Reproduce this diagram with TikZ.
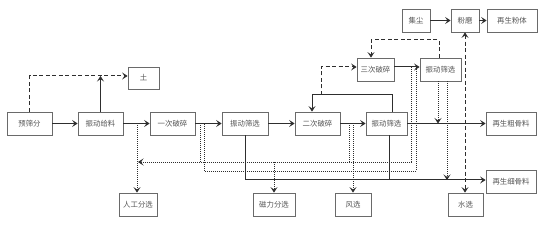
\documentclass[tikz,border=0pt]{standalone}
\usepackage{fontspec}
\newfontfamily\cjk{Noto Sans CJK SC}
\usetikzlibrary{arrows.meta,calc}
\definecolor{ln}{HTML}{2E2E2E}
\definecolor{bx}{HTML}{6A6A6A}
\definecolor{tx}{HTML}{555555}
\tikzset{
  box/.style={draw=bx, line width=0.8pt, minimum height=23pt, inner sep=0pt, font=\cjk\fontsize{7.4}{8}\selectfont, text=tx},
  tip/.style={-{Stealth[length=5.5pt,width=7pt,inset=2.4pt]}},
  sol/.style={draw=ln, line width=1pt},
  dsh/.style={draw=ln, line width=1pt, dash pattern=on 4pt off 2.5pt},
  dot/.style={draw=ln, line width=0.9pt, dash pattern=on 1pt off 1pt},
}
\begin{document}
\begin{tikzpicture}[x=1pt,y=-1pt]
\useasboundingbox[fill=white] (0,0) rectangle (538,229);
% nodes
\node[box, minimum width=45pt] (ys) at (29.5,123.5) {预筛分};
\node[box, minimum width=45pt] (zg) at (100.5,123.5) {振动给料};
\node[box, minimum width=45pt] (yc) at (172.5,123.5) {一次破碎};
\node[box, minimum width=46pt] (zs1) at (245,123.5) {振动筛选};
\node[box, minimum width=45pt] (ec) at (317.5,123.5) {二次破碎};
\node[box, minimum width=41pt] (zs2) at (386.5,123.5) {振动筛选};
\node[box, minimum width=50pt] (ccg) at (511,123.5) {再生粗骨料};
\node[box, minimum width=50pt] (xg) at (511,182) {再生细骨料};
\node[box, minimum width=38pt] (rg) at (138,204.5) {人工分选};
\node[box, minimum width=42pt] (cl) at (274,204.5) {磁力分选};
\node[box, minimum width=36pt] (fx) at (353,204.5) {风选};
\node[box, minimum width=35pt] (sx) at (465.5,204.5) {水选};
\node[box, minimum width=31pt, minimum height=22pt] (tu) at (143.5,78) {土};
\node[box, minimum width=28pt] (jc) at (416,20.5) {集尘};
\node[box, minimum width=28pt] (fm) at (465,20.5) {粉磨};
\node[box, minimum width=50pt] (fz) at (512,20.5) {再生粉体};
\node[box, minimum width=37pt] (sc) at (375.5,69.5) {三次破碎};
\node[box, minimum width=41pt] (zs3) at (440.5,69.5) {振动筛选};
% helper coordinates
\coordinate (yt) at (0,76);
\coordinate (y3) at (0,67);
\coordinate (yf) at (0,95);
\coordinate (ya) at (0,162);
\coordinate (yb) at (0,171);
\coordinate (yc2) at (0,180);
\coordinate (yt3) at (0,40);
% main line
\draw[sol,tip] (ys) -- (zg);
\draw[sol,tip] (zg) -- (yc);
\draw[sol,tip] (yc) -- (zs1);
\draw[sol,tip] (zs1) -- (ec);
\draw[sol,tip] (ec) -- (zs2);
\draw[sol,tip] (zs2) -- (ccg);
% soil
\draw[dsh,tip] (ys.north) -- (ys.north |- yt) -- (tu.west |- yt);
\draw[sol,tip] (zg.north) -- (zg.north |- yt);
% second crusher feedback
\coordinate (f1) at ($(zs2.north)+(6,0)$);
\coordinate (f2) at ($(ec.north)+(-5.5,0)$);
\draw[sol,tip] (f1) -- (f1 |- yf) -- (f2 |- yf) -- (f2);
\coordinate (f3) at (321,95);
\draw[dsh,tip] (f3) -- (f3 |- y3) -- (sc.west |- y3);
\draw[sol,tip] (sc.east |- y3) -- (zs3.west |- y3);
% third screen feedback
\coordinate (g1) at ($(zs3.north)+(-1.5,0)$);
\coordinate (g2) at ($(sc.north)+(-4.5,0)$);
\draw[dsh,tip] (g1) -- (g1 |- yt3) -- (g2 |- yt3) -- (g2);
% dotted loops
\coordinate (d1) at (411,67);
\coordinate (d2) at (416,67);
\coordinate (rgx) at (138,162);
\draw[dot,tip] (d1) -- (d1 |- ya) -- (rgx);
\draw[dot] (d2) -- (d2 |- yb) -- (204,171) -- (204,123.5);
\draw[dot] (200,123.5) -- (200,162);
\draw[dot] (349,123.5) -- (349,162);
\draw[dot,tip] (cl.north |- ya) -- (cl.north);
\coordinate (r1) at (137,123.5);
\coordinate (r2) at (353,123.5);
\draw[dot,tip] (r1) -- (r1 |- rg.north);
\draw[dot,tip] (r2) -- (r2 |- fx.north);
\coordinate (h1) at (438,0);
\coordinate (h2) at (447,0);
\draw[dot,tip] (zs3.south -| h1) -- (h1 |- zs2.east);
\draw[dot,tip] (zs3.south -| h2) -- (h2 |- yc2);
% fine aggregate line
\coordinate (k2) at ($(zs2.south)+(2.5,0)$);
\draw[sol,tip] (zs1.south) -- (zs1.south |- yc2) -- (xg.west |- yc2);
\draw[sol] (k2) -- (k2 |- yc2);
% powder
\draw[sol,tip] (jc) -- (fm);
\draw[sol,tip] (fm) -- (fz);
\draw[dsh,{Stealth[length=5.5pt,width=7pt,inset=2.4pt]}-{Stealth[length=5.5pt,width=7pt,inset=2.4pt]}] (fm.south) -- (fm.south |- sx.north);
\end{tikzpicture}
\end{document}
